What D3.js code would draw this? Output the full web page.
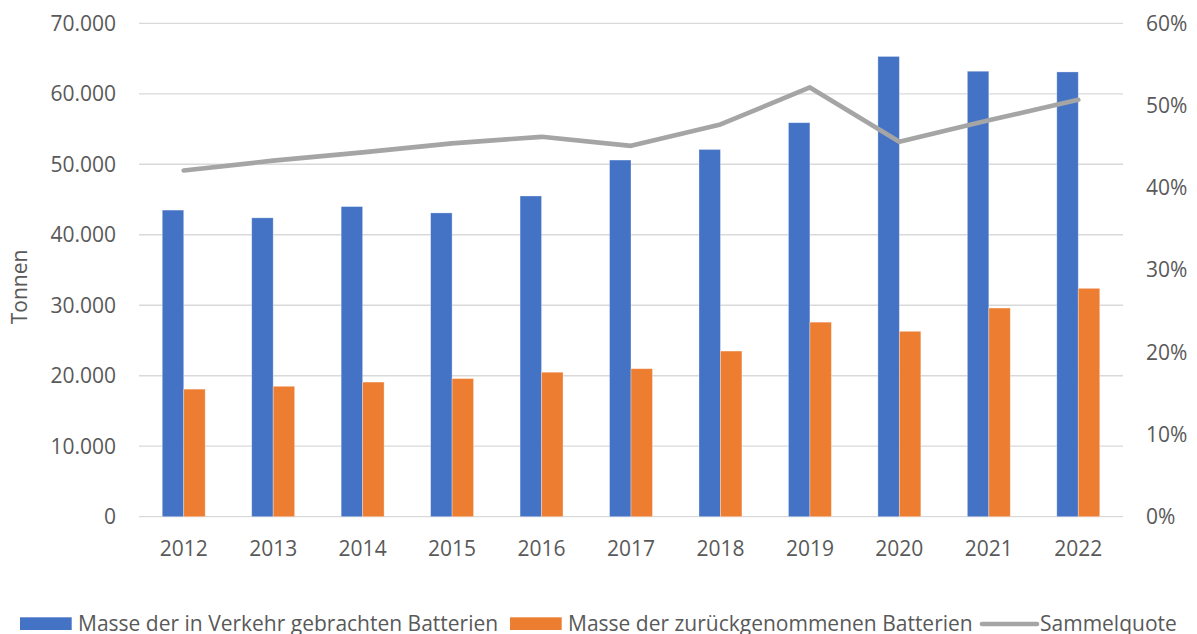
<!DOCTYPE html>
<meta charset="utf-8">
<style>
body {
  margin: 0;
  background: #fff;
}
text {
  font-family: "Open Sans";
  font-size: 21px;
  fill: #595959;
}
.grid line {
  stroke: #d9d9d9;
  stroke-width: 1.3;
}
</style>
<body>
<script src="https://cdn.jsdelivr.net/npm/d3@7"></script>
<script>

var years = ["2012", "2013", "2014", "2015", "2016", "2017", "2018", "2019", "2020", "2021", "2022"];
var inVerkehr = [43500, 42400, 44000, 43100, 45500, 50600, 52100, 55900, 65300, 63200, 63100];
var zurueck = [18100, 18500, 19100, 19600, 20500, 21000, 23500, 27600, 26300, 29600, 32400];
var quote = [0.421, 0.433, 0.443, 0.454, 0.462, 0.451, 0.477, 0.522, 0.456, 0.482, 0.507];
var leftTicks = [0, 10000, 20000, 30000, 40000, 50000, 60000, 70000];
var rightTicks = [0, 0.1, 0.2, 0.3, 0.4, 0.5, 0.6];
var seriesNames = ["Masse der in Verkehr gebrachten Batterien", "Masse der zurückgenommenen Batterien", "Sammelquote"];
var colors = ["#4472c4", "#ed7d31", "#a5a5a5"];

var width = 1197,
    height = 634;

var plotLeft = 139, plotRight = 1123, plotTop = 23.3, plotBottom = 516.7;

var svg = d3.select("body").append("svg")
    .attr("width", width)
    .attr("height", height);

var x0 = d3.scaleBand()
    .domain(years)
    .range([plotLeft, plotRight])
    .paddingInner(0.52)
    .paddingOuter(0.26);

var x1 = d3.scaleBand()
    .domain([0, 1])
    .range([0, x0.bandwidth()]);

var y = d3.scaleLinear()
    .domain([0, 70000])
    .range([plotBottom, plotTop]);

var y2 = d3.scaleLinear()
    .domain([0, 0.6])
    .range([plotBottom, plotTop]);

// gridlines
svg.append("g")
    .attr("class", "grid")
  .selectAll("line")
    .data(leftTicks)
  .enter().append("line")
    .attr("x1", plotLeft)
    .attr("x2", plotRight)
    .attr("y1", function(d) { return y(d); })
    .attr("y2", function(d) { return y(d); });

var fmt = d3.formatLocale({decimal: ",", thousands: ".", grouping: [3], currency: ["", "€"]}).format(",");

svg.append("g").selectAll("text")
    .data(leftTicks)
  .enter().append("text")
    .attr("x", 116)
    .attr("y", function(d) { return y(d); })
    .attr("dy", "0.35em")
    .attr("text-anchor", "end")
    .text(function(d) { return fmt(d); });

svg.append("g").selectAll("text")
    .data(rightTicks)
  .enter().append("text")
    .attr("x", 1146)
    .attr("y", function(d) { return y2(d); })
    .attr("dy", "0.35em")
    .text(function(d) { return d3.format(".0%")(d); });

svg.append("g").selectAll("text")
    .data(years)
  .enter().append("text")
    .attr("x", function(d) { return x0(d) + x0.bandwidth() / 2; })
    .attr("y", 556)
    .attr("text-anchor", "middle")
    .text(function(d) { return d; });

svg.append("text")
    .attr("transform", "translate(26.5,287) rotate(-90)")
    .attr("text-anchor", "middle")
    .text("Tonnen");

// bars
var series = [inVerkehr, zurueck];
series.forEach(function(vals, s) {
  svg.append("g").selectAll("rect")
      .data(vals)
    .enter().append("rect")
      .attr("x", function(d, i) { return x0(years[i]) + x1(s); })
      .attr("width", x1.bandwidth())
      .attr("y", function(d) { return y(d); })
      .attr("height", function(d) { return plotBottom - y(d); })
      .attr("fill", colors[s])
      .attr("stroke", "#fff")
      .attr("stroke-opacity", 0.4)
      .attr("stroke-width", 0.8);
});

// line
var line = d3.line()
    .x(function(d, i) { return x0(years[i]) + x0.bandwidth() / 2; })
    .y(function(d) { return y2(d); });

svg.append("path")
    .datum(quote)
    .attr("d", line)
    .attr("fill", "none")
    .attr("stroke", colors[2])
    .attr("stroke-width", 4.7)
    .attr("stroke-linecap", "round")
    .attr("stroke-linejoin", "round");

// legend
var legend = svg.append("g");
var lx = [20, 510, 982];
seriesNames.forEach(function(name, i) {
  if (i < 2) {
    legend.append("rect")
        .attr("x", lx[i])
        .attr("y", 617.3)
        .attr("width", 51.7)
        .attr("height", 12.7)
        .attr("fill", colors[i]);
  } else {
    legend.append("line")
        .attr("x1", lx[i])
        .attr("x2", lx[i] + 55)
        .attr("y1", 624)
        .attr("y2", 624)
        .attr("stroke", colors[i])
        .attr("stroke-width", 4.7)
        .attr("stroke-linecap", "round");
  }
  legend.append("text")
      .attr("x", lx[i] + 58)
      .attr("y", 630.5)
      .text(name);
});

</script>
